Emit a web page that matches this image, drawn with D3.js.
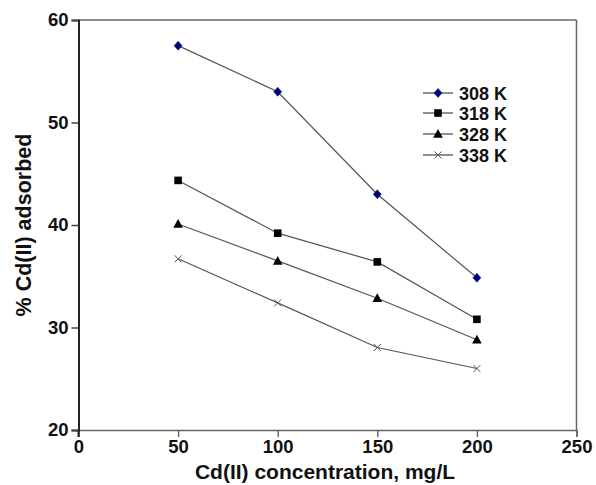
<!DOCTYPE html>
<html><head><meta charset="utf-8">
<script src="https://cdn.jsdelivr.net/npm/d3@7/dist/d3.min.js"></script>
<style>
body{margin:0;background:#fff;}
text{font-family:"Liberation Sans",Arial,sans-serif;font-weight:bold;}
</style></head>
<body><svg id="c" width="596" height="485"></svg>
<script>
const concentrations = [50, 100, 150, 200];
const s308 = [57.5, 53.0, 43.0, 34.85];
const s318 = [44.35, 39.2, 36.4, 30.8];
const s328 = [40.1, 36.5, 32.85, 28.8];
const s338 = [36.7, 32.4, 28.05, 26.0];
const seriesNames = ["308 K", "318 K", "328 K", "338 K"];
const xTicks = [0, 50, 100, 150, 200, 250];
const yTicks = [20, 30, 40, 50, 60];

const svg = d3.select("#c");
const x = d3.scaleLinear().domain([0, 250]).range([78.5, 576.5]);
const y = d3.scaleLinear().domain([20, 60]).range([430, 20]);

// frame top/right
svg.append("line").attr("x1", x(0)).attr("x2", x(250)).attr("y1", y(60)).attr("y2", y(60)).attr("stroke", "#666").attr("stroke-width", 1.5);
svg.append("line").attr("x1", x(250)).attr("x2", x(250)).attr("y1", y(60)).attr("y2", y(20)).attr("stroke", "#666").attr("stroke-width", 1.5);

// x axis
const xa = svg.append("g").attr("transform", `translate(0,${y(20)})`)
  .call(d3.axisBottom(x).tickValues(xTicks).tickSize(7).tickPadding(3).tickFormat(d3.format("d")));
xa.select(".domain").attr("stroke", "#666").attr("stroke-width", 1.5);
xa.selectAll(".tick line").attr("stroke", "#666").attr("stroke-width", 1.5);
xa.selectAll("text").attr("font-size", 18.5).attr("fill", "#111");

// y axis
const ya = svg.append("g").attr("transform", `translate(${x(0)},0)`)
  .call(d3.axisLeft(y).tickValues(yTicks).tickSize(7).tickPadding(3).tickFormat(d3.format("d")));
ya.select(".domain").attr("stroke", "#222").attr("stroke-width", 2);
ya.selectAll(".tick line").attr("stroke", "#444").attr("stroke-width", 1.5);
ya.selectAll("text").attr("font-size", 18.5).attr("fill", "#111");
// extend y axis below
svg.append("line").attr("x1", x(0)).attr("x2", x(0)).attr("y1", y(20)).attr("y2", y(20) + 7).attr("stroke", "#222").attr("stroke-width", 2);

// titles
svg.append("text").attr("x", 325).attr("y", 479).attr("text-anchor", "middle").attr("font-size", 21).attr("fill", "#111").text("Cd(II) concentration, mg/L");
svg.append("text").attr("transform", `translate(31,225) rotate(-90)`).attr("text-anchor", "middle").attr("font-size", 21.5).attr("fill", "#111").text("% Cd(II) adsorbed");

const seriesList = [s308, s318, s328, s338];
const line = d3.line().x((d, i) => x(concentrations[i])).y(d => y(d));

function marker(g, type, cx, cy) {
  if (type === 0) {
    g.append("path").attr("d", `M${cx},${cy-4.5}L${cx+4},${cy}L${cx},${cy+4.5}L${cx-4},${cy}Z`).attr("fill", "#00007a").attr("stroke", "#000044").attr("stroke-width", 0.5);
  } else if (type === 1) {
    g.append("rect").attr("x", cx - 3.8).attr("y", cy - 3.8).attr("width", 7.6).attr("height", 7.6).attr("fill", "#000");
  } else if (type === 2) {
    g.append("path").attr("d", `M${cx},${cy-5}L${cx+4.8},${cy+3.8}L${cx-4.8},${cy+3.8}Z`).attr("fill", "#000");
  } else {
    g.append("path").attr("d", `M${cx-3.5},${cy-3.5}L${cx+3.5},${cy+3.5}M${cx-3.5},${cy+3.5}L${cx+3.5},${cy-3.5}`).attr("stroke", "#555").attr("stroke-width", 1);
  }
}

seriesList.forEach((s, k) => {
  const g = svg.append("g");
  g.append("path").datum(s).attr("d", line).attr("fill", "none").attr("stroke", "#555").attr("stroke-width", 1.2);
  s.forEach((v, i) => marker(g, k, x(concentrations[i]), y(v)));
});

// legend
const legY = [93, 113, 134, 155];
seriesNames.forEach((n, k) => {
  const g = svg.append("g");
  g.append("line").attr("x1", 423).attr("x2", 453).attr("y1", legY[k]).attr("y2", legY[k]).attr("stroke", "#444").attr("stroke-width", 1.2);
  marker(g, k, 438, legY[k]);
  g.append("text").attr("x", 459).attr("y", legY[k] + 6.5).attr("font-size", 18).attr("fill", "#111").text(n);
});
</script></body></html>
